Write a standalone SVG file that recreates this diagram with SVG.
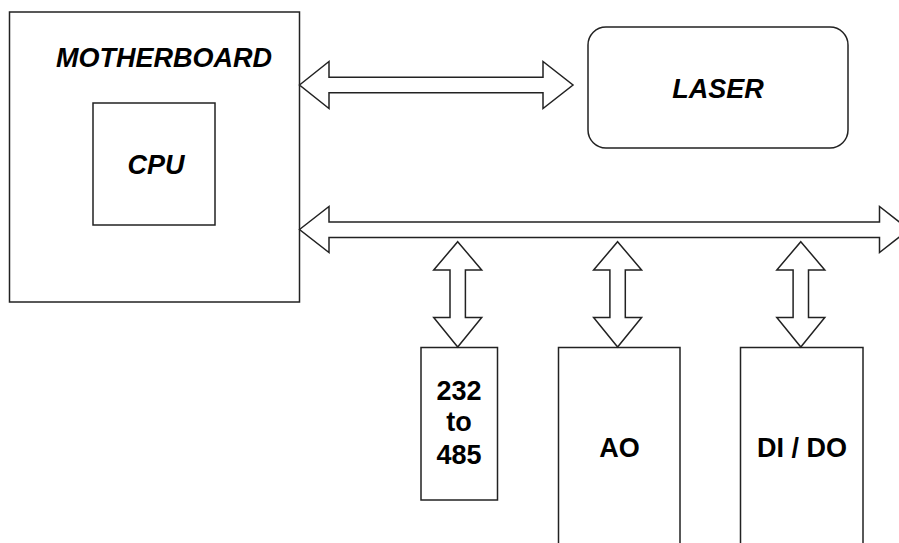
<svg xmlns="http://www.w3.org/2000/svg" width="899" height="543" viewBox="0 0 899 543">
<style>
.box{fill:#fff;stroke:#222;stroke-width:1.5}
.arr{fill:#fff;stroke:#222;stroke-width:1.5;stroke-linejoin:miter}
.t{font-family:"Liberation Sans",Arial,sans-serif;font-weight:bold;font-size:27px;fill:#000;text-anchor:middle}
.i{font-style:italic}
</style>
<rect width="899" height="543" fill="#fff"/>
<g id="motherboard">
<rect class="box" x="9.5" y="12" width="290" height="290"/>
<text class="t i" x="164" y="67">MOTHERBOARD</text>
</g>
<g id="cpu">
<rect class="box" x="93" y="103" width="122" height="122"/>
<text class="t i" x="156" y="173.5">CPU</text>
</g>
<g id="laser">
<rect class="box" x="588" y="27" width="260" height="121" rx="18" ry="18"/>
<text class="t i" x="718" y="98">LASER</text>
</g>
<g id="conv232">
<rect class="box" x="421" y="347.5" width="76.5" height="152.5"/>
<text class="t" x="459" y="400">232</text>
<text class="t" x="459" y="431">to</text>
<text class="t" x="459" y="464">485</text>
</g>
<g id="ao">
<rect class="box" x="558.5" y="347.5" width="121.5" height="210"/>
<text class="t" x="619.5" y="456.5">AO</text>
</g>
<g id="dido">
<rect class="box" x="740.5" y="347.5" width="122.5" height="210"/>
<text class="t" x="802" y="456.5">DI / DO</text>
</g>
<g id="connectors">
<polygon class="arr" points="299.5,85 329,61.5 329,77.3 543,77.3 543,61.5 573,85 543,108.5 543,92.7 329,92.7 329,108.5"/>
<polygon class="arr" points="299.5,229.5 329,206.5 329,222 879.5,222 879.5,206.5 909,229.5 879.5,252.5 879.5,237.5 329,237.5 329,252.5"/>
<polygon class="arr" points="457.7,241.7 481.7,270 465.4,270 465.4,317.5 481.7,317.5 457.7,347 433.7,317.5 450,317.5 450,270 433.7,270"/>
<polygon class="arr" points="617.6,241.7 641.6,270 625.3,270 625.3,317.5 641.6,317.5 617.6,347 593.6,317.5 609.9,317.5 609.9,270 593.6,270"/>
<polygon class="arr" points="800.8,241.7 824.8,270 808.5,270 808.5,317.5 824.8,317.5 800.8,347 776.8,317.5 793.1,317.5 793.1,270 776.8,270"/>
</g>
</svg>
